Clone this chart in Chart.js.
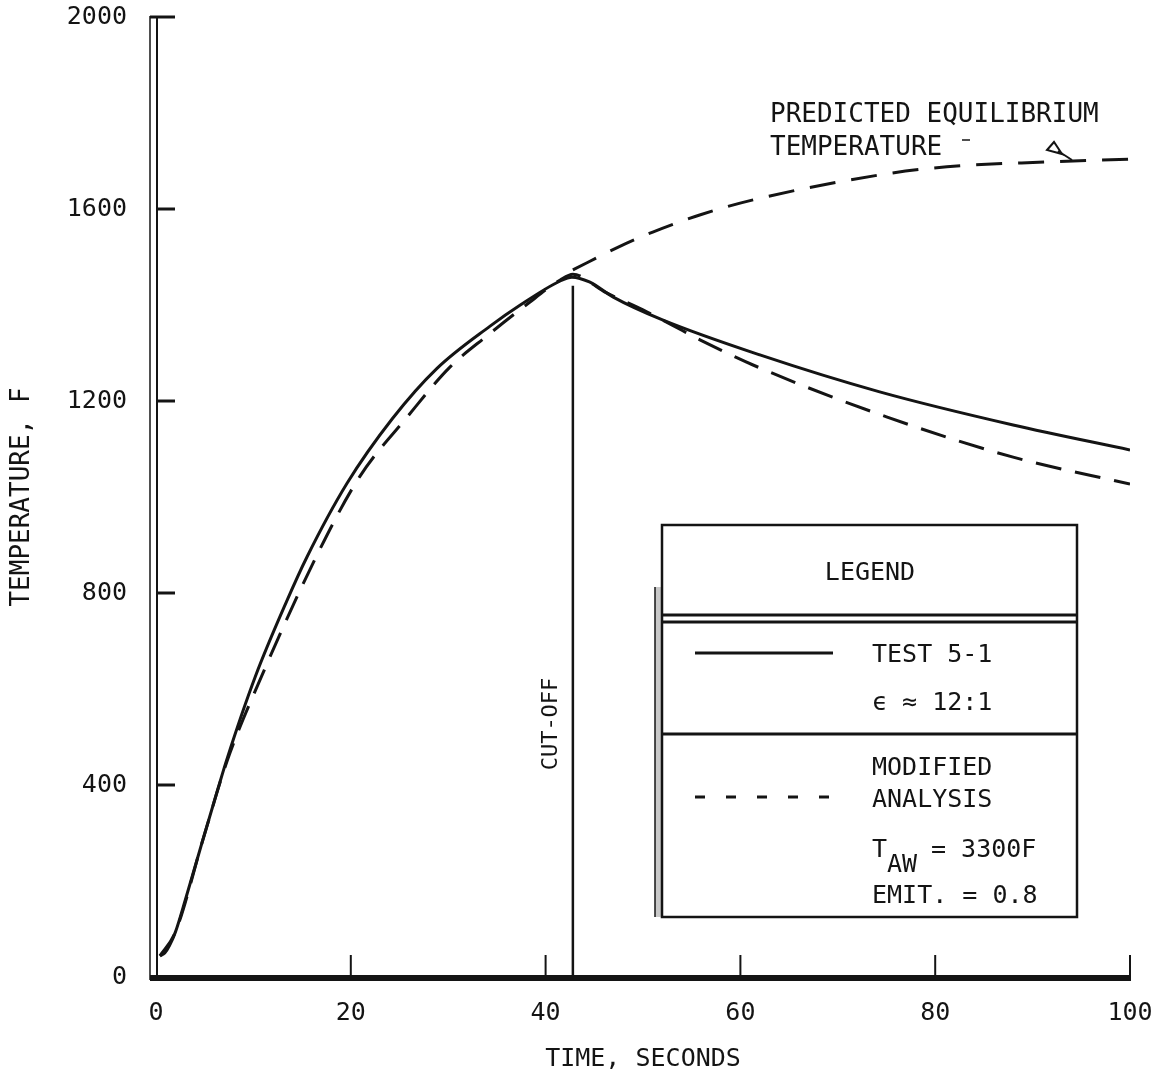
<!DOCTYPE html>
<html><head><meta charset="utf-8">
<script src="https://cdn.jsdelivr.net/npm/chart.js@4.4.0/dist/chart.umd.min.js"></script>
<style>html,body{margin:0;padding:0;background:#fff}canvas{display:block}</style>
</head><body>
<canvas id="c" width="1162" height="1076"></canvas>
<script>
// ---- data ----
const xTicks = [0, 20, 40, 60, 80, 100];
const yTicks = [0, 400, 800, 1200, 1600, 2000];

const testTime = [0.4, 0.9, 1.4, 2, 3, 4.8, 6.3, 7.3, 10.2, 13.4, 15.5, 19.6, 24.3, 28.8, 34.3, 37.4, 41.5, 42.7, 44.5, 46.9, 52, 62, 74.3, 88, 100];
const testTemp = [44, 50, 66, 94, 160, 285, 388, 455, 626, 782, 875, 1028, 1164, 1267, 1356, 1400, 1450, 1458, 1448, 1417, 1369, 1296, 1219, 1150, 1098];

const analysisTime = [0.4, 2, 4.8, 7.3, 10.7, 16.8, 20.9, 25.8, 30.2, 34, 38, 41.5, 42.8, 46, 50, 53, 55.9, 61.3, 75, 88, 100];
const analysisTemp = [44, 94, 285, 450, 620, 890, 1042, 1167, 1271, 1336, 1400, 1452, 1464, 1428, 1390, 1358, 1327, 1275, 1167, 1083, 1027];

const equilTime = [42.8, 47.3, 51, 55.9, 61.3, 74.3, 81.2, 91.5, 100];
const equilTemp = [1473, 1519, 1552, 1588, 1619, 1671, 1688, 1698, 1704];

const cutoffTime = [42.8, 42.8];
const cutoffTemp = [0, 1440];

const pts = (xs, ys) => xs.map((v, i) => ({x: v, y: ys[i]}));

const FONT = '"DejaVu Sans Mono", monospace';
const INK = '#141414';

function seg(ctx, x1, y1, x2, y2) { ctx.beginPath(); ctx.moveTo(x1, y1); ctx.lineTo(x2, y2); ctx.stroke(); }

const decor = {
  id: 'decor',
  afterDraw(chart) {
    const {ctx, chartArea: a, scales: {x, y}} = chart;
    ctx.save();
    ctx.strokeStyle = INK; ctx.fillStyle = INK; ctx.setLineDash([]);
    const top = y.getPixelForValue(2000);
    // y axis (double line)
    ctx.lineWidth = 1.5; seg(ctx, a.left - 6, top - 1, a.left - 6, a.bottom + 3);
    ctx.lineWidth = 2; seg(ctx, a.left + 1, top, a.left + 1, a.bottom);
    // y tick marks (inward)
    ctx.lineWidth = 3;
    yTicks.forEach(v => { if (v === 0) return; const py = y.getPixelForValue(v); seg(ctx, v === 2000 ? a.left - 6 : a.left + 1, py, a.left + 19, py); });
    // x axis band
    ctx.fillRect(a.left - 6, a.bottom - 2, a.right - a.left + 7, 6);
    // x tick marks (inward)
    ctx.lineWidth = 2;
    xTicks.forEach(v => { if (v === 0) return; const px = x.getPixelForValue(v); seg(ctx, px, a.bottom, px, a.bottom - 22); });

    // cut-off label
    ctx.save();
    ctx.translate(x.getPixelForValue(cutoffTime[0]) - 22, 724);
    ctx.rotate(-Math.PI / 2);
    ctx.font = '22px ' + FONT; ctx.textAlign = 'center'; ctx.textBaseline = 'middle';
    ctx.fillText('CUT-OFF', 0, 0);
    ctx.restore();

    // predicted equilibrium annotation
    ctx.font = '26px ' + FONT; ctx.textAlign = 'left'; ctx.textBaseline = 'alphabetic';
    ctx.fillText('PREDICTED EQUILIBRIUM', 770, 122);
    ctx.fillText('TEMPERATURE', 770, 155);
    ctx.lineWidth = 1.5; seg(ctx, 962, 140, 970, 140);
    ctx.lineWidth = 2;
    ctx.beginPath(); ctx.moveTo(1047, 150); ctx.lineTo(1054, 142); ctx.lineTo(1062, 154); ctx.closePath(); ctx.stroke();
    seg(ctx, 1058, 151, 1072, 160);

    // legend box
    ctx.fillStyle = '#c8c8c8'; ctx.fillRect(655, 587, 7, 330);
    ctx.fillStyle = INK;
    ctx.lineWidth = 1.5; seg(ctx, 655, 587, 655, 917);
    ctx.lineWidth = 2.5; ctx.strokeRect(662, 525, 415, 392);
    ctx.lineWidth = 3;
    seg(ctx, 662, 615, 1077, 615);
    seg(ctx, 662, 622, 1077, 622);
    seg(ctx, 662, 734, 1077, 734);
    // legend samples
    ctx.lineWidth = 3; seg(ctx, 695, 653, 833, 653);
    ctx.setLineDash([10, 21]); seg(ctx, 695, 797, 833, 797); ctx.setLineDash([]);
    // legend text
    ctx.font = '25px ' + FONT;
    ctx.textAlign = 'center'; ctx.fillText('LEGEND', 870, 580);
    ctx.textAlign = 'left';
    ctx.fillText('TEST 5-1', 872, 662);
    ctx.fillText('\u03F5 \u2248 12:1', 872, 710);
    ctx.fillText('MODIFIED', 872, 775);
    ctx.fillText('ANALYSIS', 872, 807);
    ctx.fillText('T', 872, 857);
    ctx.fillText('AW', 887, 872);
    ctx.fillText('= 3300F', 931, 857);
    ctx.fillText('EMIT. = 0.8', 872, 903);
    ctx.restore();
  }
};

new Chart(document.getElementById('c'), {
  type: 'line',
  data: {
    datasets: [
      {label: 'TEST 5-1', data: pts(testTime, testTemp), borderColor: INK, borderWidth: 3, pointRadius: 0, cubicInterpolationMode: 'monotone', fill: false},
      {label: 'MODIFIED ANALYSIS', data: pts(analysisTime, analysisTemp), borderColor: INK, borderWidth: 3, borderDash: [26, 14], pointRadius: 0, cubicInterpolationMode: 'monotone', fill: false},
      {label: 'PREDICTED EQUILIBRIUM TEMPERATURE', data: pts(equilTime, equilTemp), borderColor: INK, borderWidth: 3, borderDash: [26, 16], pointRadius: 0, cubicInterpolationMode: 'monotone', fill: false},
      {label: 'CUT-OFF', data: pts(cutoffTime, cutoffTemp), borderColor: INK, borderWidth: 2.5, pointRadius: 0, tension: 0, fill: false}
    ]
  },
  options: {
    responsive: false, devicePixelRatio: 1, animation: false,
    layout: {padding: {left: 0, right: 32, top: 17, bottom: 0}},
    plugins: {legend: {display: false}, tooltip: {enabled: false}},
    scales: {
      x: {
        type: 'linear', min: 0, max: 100,
        grid: {display: false, drawTicks: false}, border: {display: false},
        afterBuildTicks: s => { s.ticks = xTicks.map(v => ({value: v})); },
        afterFit: s => { s.height = 99; s.paddingLeft = 0; s.paddingRight = 0; },
        ticks: {font: {family: FONT, size: 25}, color: INK, padding: 21, maxRotation: 0, autoSkip: false, callback: v => String(v)},
        title: {display: true, text: 'TIME, SECONDS', font: {family: FONT, size: 25}, color: INK, padding: {top: 0, bottom: 2}}
      },
      y: {
        type: 'linear', min: 0, max: 2000,
        grid: {display: false, drawTicks: false}, border: {display: false},
        afterBuildTicks: s => { s.ticks = yTicks.map(v => ({value: v})); },
        afterFit: s => { s.width = 156; s.paddingTop = 0; s.paddingBottom = 0; },
        ticks: {font: {family: FONT, size: 25}, color: INK, padding: 29, autoSkip: false, callback: v => String(v)},
        title: {display: true, text: 'TEMPERATURE, F', font: {family: FONT, size: 26}, color: INK, padding: {top: 7, bottom: 0}}
      }
    }
  },
  plugins: [decor]
});
</script>
</body></html>
